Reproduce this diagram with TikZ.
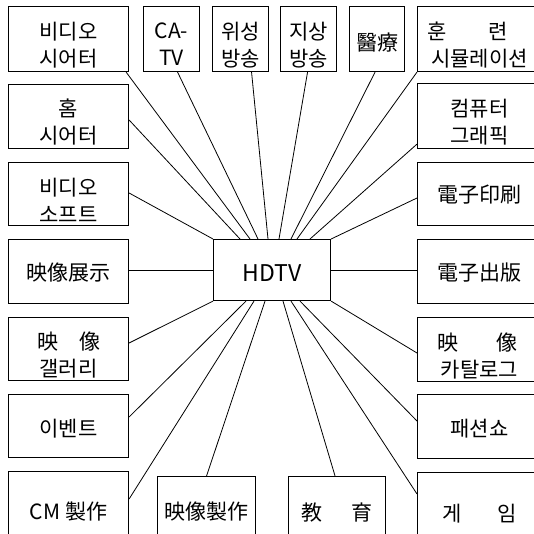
\documentclass[tikz,border=0pt]{standalone}
\usepackage{fontspec}
\setmainfont{Noto Sans CJK KR}
\usetikzlibrary{calc}
\begin{document}
\begin{tikzpicture}[x=1pt,y=-1pt,
  box/.style={draw, line width=1.1pt, inner sep=0pt, anchor=north west},
  txt/.style={inner sep=0pt, align=center, font=\fontsize{21}{27}\selectfont},
  link/.style={line width=0.8pt}]
\newcommand\bx[7]{%
  \node[box, minimum width=#4pt, minimum height=#5pt] (#1) at (#2,#3) {};
  \node[txt] (#1t) at ([yshift=-#6pt]#1.center) {#7};}
\useasboundingbox (0,0) rectangle (534,534);
\fill[white] (0,0) rectangle (534,534);
\clip (0,0) rectangle (534,534);
% top row
\bx{vt}{8}{6}{120}{65}{6}{비디오\\시어터}
\bx{ca}{143}{6}{56}{65}{5}{CA-\\TV}
\bx{ws}{212}{6}{56}{65}{6}{위성\\방송}
\bx{js}{280}{6}{56}{65}{6}{지상\\방송}
\bx{med}{349}{6}{55}{65}{3}{醫療}
\bx{hun}{417}{6}{124}{65}{6}{\makebox[5em][l]{훈\hspace{2em}련}\\시뮬레이션}
% left column
\bx{ht}{8}{84}{120}{64}{5}{홈\\시어터}
\bx{vs}{8}{162}{120}{63}{6}{비디오\\소프트}
\bx{ex}{8}{239}{120}{64}{1}{映像展示}
\bx{gal}{8}{317}{120}{63}{6}{映\hspace{1em}像\\갤러리}
\bx{ev}{8}{394}{120}{63}{3}{이벤트}
\bx{cm}{8}{471}{120}{77}{1}{CM 製作}
% bottom
\bx{mp}{157}{476}{98}{68}{1}{映像製作}
\bx{edu}{288}{476}{97}{70}{1}{教\hspace{1.4em}育}
\bx{game}{417}{472}{124}{80}{1}{게\hspace{1.7em}임}
% right column
\bx{cg}{417}{83}{124}{65}{6}{컴퓨터\\그래픽}
\bx{ep}{417}{162}{124}{63}{1}{電子印刷}
\bx{eb}{417}{239}{124}{64}{1}{電子出版}
\bx{cat}{417}{317}{124}{64}{6}{\makebox[4em][l]{映\hspace{1.8em}像}\\카탈로그}
\bx{fs}{417}{394}{124}{64}{2}{패션쇼}
% centre
\node[box, minimum width=117pt, minimum height=61pt] (hdtv) at (213,239) {};
\node[txt, font=\fontsize{23}{27}\selectfont] (hdtvt) at ([yshift=-3pt]hdtv.center) {HDTV};
% connectors
\draw[link] ([xshift=-3pt]vt.south east) -- ([xshift=37pt]hdtv.north west);
\draw[link] ([yshift=-36pt]ht.north east) -- ([xshift=27pt]hdtv.north west);
\draw[link] ([yshift=-31pt]vs.north east) -- (hdtv.north west);
\draw[link] (ex.east |- hdtv.west) -- (hdtv.west);
\draw[link] ([yshift=-26pt]gal.north east) -- (hdtv.south west);
\draw[link] ([yshift=-23pt]ev.north east) -- ([xshift=33pt]hdtv.south west);
\draw[link] ([yshift=-28pt]cm.north east) -- ([xshift=41pt]hdtv.south west);
\draw[link] (mp.north) -- ([xshift=52pt]hdtv.south west);
\draw[link] ([xshift=-2pt]edu.north) -- ([xshift=70pt]hdtv.south west);
\draw[link] ([yshift=-22pt]game.north west) -- ([xshift=78pt]hdtv.south west);
\draw[link] ([yshift=-27pt]fs.north west) -- ([xshift=87pt]hdtv.south west);
\draw[link] ([yshift=-36pt]cat.north west) -- (hdtv.south east);
\draw[link] (eb.west |- hdtv.east) -- (hdtv.east);
\draw[link] ([yshift=-36pt]ep.north west) -- (hdtv.north east);
\draw[link] ([yshift=5pt]cg.south west) -- ([xshift=97pt]hdtv.north west);
\draw[link] (hun.south west) -- ([xshift=84pt]hdtv.north west);
\draw[link] ([xshift=-2pt]med.south) -- ([xshift=78pt]hdtv.north west);
\draw[link] ([xshift=-1pt]js.south) -- ([xshift=66pt]hdtv.north west);
\draw[link] ([xshift=11pt]ws.south) -- ([xshift=55pt]hdtv.north west);
\draw[link] ([xshift=6pt]ca.south) -- ([xshift=45pt]hdtv.north west);
\end{tikzpicture}
\end{document}
